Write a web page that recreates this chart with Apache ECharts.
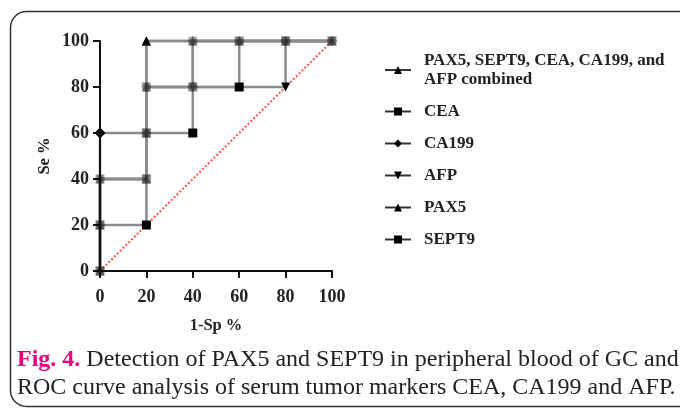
<!DOCTYPE html>
<html>
<head>
<meta charset="utf-8">
<script src="https://cdn.jsdelivr.net/npm/echarts@6/dist/echarts.min.js"></script>
<style>
  html, body { margin: 0; padding: 0; background: #fff; }
  #rocChart { width: 680px; height: 409px; }
</style>
</head>
<body>
<div id="rocChart"></div>
<script>
// ROC curve points, [1-Sp %, Se %]
var combinedPts = [[0,0],[0,20],[0,40],[20,40],[20,60],[20,80],[20,100],[40,100],[60,100],[80,100],[100,100]]
var ceaPts      = [[0,0],[0,20],[0,40],[20,40],[20,60],[40,60],[40,80],[60,80],[60,100],[80,100],[100,100]]
var ca199Pts    = [[0,0],[0,20],[0,40],[0,60],[20,60],[20,80],[40,80],[40,100],[60,100],[80,100],[100,100]]
var afpPts      = [[0,0],[0,20],[0,40],[20,40],[20,60],[20,80],[40,80],[80,80],[80,100],[100,100]]
var pax5Pts     = [[0,0],[0,20],[0,40],[20,40],[20,60],[20,80],[20,100],[40,100],[60,100],[80,100],[100,100]]
var sept9Pts    = [[0,0],[0,20],[20,20],[20,40],[20,60],[20,80],[40,80],[40,100],[60,100],[80,100],[100,100]]
var refLine     = [[0,0],[100,100]]

var seriesNames = ['PAX5, SEPT9, CEA, CA199, and AFP combined', 'CEA', 'CA199', 'AFP', 'PAX5', 'SEPT9']
var seriesPts = [combinedPts, ceaPts, ca199Pts, afpPts, pax5Pts, sept9Pts]
var seriesSymbols = ['triangle', 'rect', 'diamond', 'path://M0,0L10,0L5,10Z', 'triangle', 'rect']

var xTicks = [0, 20, 40, 60, 80, 100]
var yTicks = [0, 20, 40, 60, 80, 100]

var serif = 'Liberation Serif'

// which symbols sit on each point (to grey out shared markers)
var shared = {}
seriesPts.forEach(function (pts, i) {
  pts.forEach(function (p) {
    var k = p[0] + ',' + p[1]
    if (!shared[k]) shared[k] = []
    shared[k].push(seriesSymbols[i])
  })
})

function pointData(pts) {
  return pts.map(function (p) {
    var syms = shared[p[0] + ',' + p[1]]
    var same = syms.every(function (s) { return s === syms[0] })
    return {
      value: p,
      itemStyle: { color: same ? '#000' : 'rgba(40,40,40,0.3)' }
    }
  })
}

var series = seriesNames.map(function (name, i) {
  return {
    name: name,
    type: 'line',
    data: pointData(seriesPts[i]),
    symbol: seriesSymbols[i],
    symbolSize: seriesSymbols[i] === 'diamond' ? 11 : 9,
    showAllSymbol: true,
    clip: false,
    z: 3,
    itemStyle: { color: '#000' },
    lineStyle: { color: '#8c8c8c', width: 2.5 }
  }
})
series.push({
  name: 'ref',
  type: 'line',
  data: refLine,
  symbol: 'none',
  z: 2,
  lineStyle: { color: '#ff5050', width: 2, type: 'dotted' }
})

var option = {
  backgroundColor: '#fff',
  animation: false,
  grid: { left: 100, top: 41, width: 232, height: 230 },
  legend: {
    orient: 'vertical',
    left: 379,
    top: 46,
    itemGap: 13,
    itemWidth: 26,
    itemHeight: 10,
    data: seriesNames,
    lineStyle: { color: '#333', width: 2 },
    formatter: function (n) { return n.replace(', and AFP', ', and\nAFP') },
    textStyle: { fontFamily: serif, fontWeight: 'bold', fontSize: 17, color: '#222', lineHeight: 19, padding: [0, 0, 0, 8] }
  },
  xAxis: {
    type: 'value', min: 0, max: 100, interval: 20, z: 5,
    name: '1-Sp %', nameLocation: 'middle', nameGap: 46,
    nameTextStyle: { fontFamily: serif, fontWeight: 'bold', fontSize: 16.5, color: '#222' },
    axisLine: { lineStyle: { color: '#111', width: 2 } },
    axisTick: { show: true, length: 7, lineStyle: { color: '#111', width: 2 } },
    axisLabel: { fontFamily: serif, fontWeight: 'bold', fontSize: 18, color: '#222', margin: 17,
      formatter: function (v) { return xTicks.indexOf(v) >= 0 ? v : '' } },
    splitLine: { show: false }
  },
  yAxis: {
    type: 'value', min: 0, max: 100, interval: 20, z: 5,
    name: 'Se %', nameLocation: 'middle', nameGap: 47,
    nameTextStyle: { fontFamily: serif, fontWeight: 'bold', fontSize: 16.5, color: '#222' },
    axisLine: { lineStyle: { color: '#111', width: 2 } },
    axisTick: { show: true, length: 7, lineStyle: { color: '#111', width: 2 } },
    axisLabel: { fontFamily: serif, fontWeight: 'bold', fontSize: 18, color: '#222', margin: 11,
      formatter: function (v) { return yTicks.indexOf(v) >= 0 ? v : '' } },
    splitLine: { show: false }
  },
  graphic: [
    {
      type: 'rect', left: 8, top: 9, z: -1,
      shape: { width: 700, height: 395, r: 16 },
      style: { fill: 'none', stroke: '#333', lineWidth: 1.5 }
    },
    {
      type: 'text', left: 17, top: 346,
      style: {
        text: '{a|Fig. 4.} Detection of PAX5 and SEPT9 in peripheral blood of GC and\nROC curve analysis of serum tumor markers CEA, CA199 and AFP.',
        fontFamily: serif, fontSize: 24, lineHeight: 28, fill: '#222',
        rich: { a: { fontFamily: serif, fontSize: 24, fill: '#e6007e', fontWeight: 'bold' } }
      }
    }
  ],
  series: series
}

var rocChart = echarts.init(document.getElementById('rocChart'))
rocChart.setOption(option)
</script>
</body>
</html>
